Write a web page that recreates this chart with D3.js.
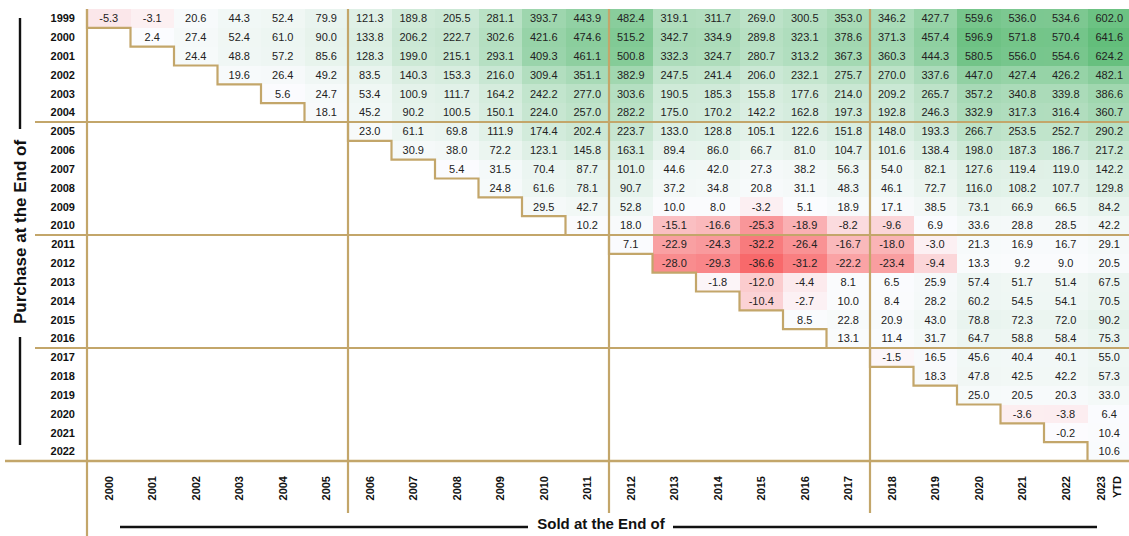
<!DOCTYPE html>
<html>
<head>
<meta charset="utf-8">
<script src="https://cdn.jsdelivr.net/npm/d3@7/dist/d3.min.js"></script>
<style>
  body { margin: 0; background: #fff; }
  text { font-family: Arial, "Liberation Sans", sans-serif; }
</style>
</head>
<body>
<div id="grid_chart"></div>
<script>
/*globals d3 */

//DATA: ROWS = YEAR PURCHASED, COLUMNS = YEAR SOLD
var purchaseYears = ["1999", "2000", "2001", "2002", "2003", "2004", "2005", "2006",
  "2007", "2008", "2009", "2010", "2011", "2012", "2013", "2014", "2015", "2016",
  "2017", "2018", "2019", "2020", "2021", "2022"];

var soldYears = ["2000", "2001", "2002", "2003", "2004", "2005", "2006", "2007",
  "2008", "2009", "2010", "2011", "2012", "2013", "2014", "2015", "2016", "2017",
  "2018", "2019", "2020", "2021", "2022", "2023 YTD"];

//each row starts at the year after purchase
var gains = [
  [-5.3, -3.1, 20.6, 44.3, 52.4, 79.9, 121.3, 189.8, 205.5, 281.1, 393.7, 443.9, 482.4, 319.1, 311.7, 269.0, 300.5, 353.0, 346.2, 427.7, 559.6, 536.0, 534.6, 602.0],
  [2.4, 27.4, 52.4, 61.0, 90.0, 133.8, 206.2, 222.7, 302.6, 421.6, 474.6, 515.2, 342.7, 334.9, 289.8, 323.1, 378.6, 371.3, 457.4, 596.9, 571.8, 570.4, 641.6],
  [24.4, 48.8, 57.2, 85.6, 128.3, 199.0, 215.1, 293.1, 409.3, 461.1, 500.8, 332.3, 324.7, 280.7, 313.2, 367.3, 360.3, 444.3, 580.5, 556.0, 554.6, 624.2],
  [19.6, 26.4, 49.2, 83.5, 140.3, 153.3, 216.0, 309.4, 351.1, 382.9, 247.5, 241.4, 206.0, 232.1, 275.7, 270.0, 337.6, 447.0, 427.4, 426.2, 482.1],
  [5.6, 24.7, 53.4, 100.9, 111.7, 164.2, 242.2, 277.0, 303.6, 190.5, 185.3, 155.8, 177.6, 214.0, 209.2, 265.7, 357.2, 340.8, 339.8, 386.6],
  [18.1, 45.2, 90.2, 100.5, 150.1, 224.0, 257.0, 282.2, 175.0, 170.2, 142.2, 162.8, 197.3, 192.8, 246.3, 332.9, 317.3, 316.4, 360.7],
  [23.0, 61.1, 69.8, 111.9, 174.4, 202.4, 223.7, 133.0, 128.8, 105.1, 122.6, 151.8, 148.0, 193.3, 266.7, 253.5, 252.7, 290.2],
  [30.9, 38.0, 72.2, 123.1, 145.8, 163.1, 89.4, 86.0, 66.7, 81.0, 104.7, 101.6, 138.4, 198.0, 187.3, 186.7, 217.2],
  [5.4, 31.5, 70.4, 87.7, 101.0, 44.6, 42.0, 27.3, 38.2, 56.3, 54.0, 82.1, 127.6, 119.4, 119.0, 142.2],
  [24.8, 61.6, 78.1, 90.7, 37.2, 34.8, 20.8, 31.1, 48.3, 46.1, 72.7, 116.0, 108.2, 107.7, 129.8],
  [29.5, 42.7, 52.8, 10.0, 8.0, -3.2, 5.1, 18.9, 17.1, 38.5, 73.1, 66.9, 66.5, 84.2],
  [10.2, 18.0, -15.1, -16.6, -25.3, -18.9, -8.2, -9.6, 6.9, 33.6, 28.8, 28.5, 42.2],
  [7.1, -22.9, -24.3, -32.2, -26.4, -16.7, -18.0, -3.0, 21.3, 16.9, 16.7, 29.1],
  [-28.0, -29.3, -36.6, -31.2, -22.2, -23.4, -9.4, 13.3, 9.2, 9.0, 20.5],
  [-1.8, -12.0, -4.4, 8.1, 6.5, 25.9, 57.4, 51.7, 51.4, 67.5],
  [-10.4, -2.7, 10.0, 8.4, 28.2, 60.2, 54.5, 54.1, 70.5],
  [8.5, 22.8, 20.9, 43.0, 78.8, 72.3, 72.0, 90.2],
  [13.1, 11.4, 31.7, 64.7, 58.8, 58.4, 75.3],
  [-1.5, 16.5, 45.6, 40.4, 40.1, 55.0],
  [18.3, 47.8, 42.5, 42.2, 57.3],
  [25.0, 20.5, 20.3, 33.0],
  [-3.6, -3.8, 6.4],
  [-0.2, 10.4],
  [10.6]
];

var yTitle = "Purchase at the End of";
var xTitle = "Sold at the End of";

var gold = "#c3a66a";

var svg = d3.select("#grid_chart").append("svg")
  .attr("width", 1129)
  .attr("height", 536);

//SCALES
var xScale = d3.scaleBand()
  .domain(soldYears)
  .range([87, 1131]);

var yScale = d3.scaleBand()
  .domain(purchaseYears)
  .range([9, 461]);

var cells = [];
gains.forEach(function(row, i) {
  row.forEach(function(v, j) {
    cells.push({p: purchaseYears[i], s: soldYears[i + j], v: v});
  });
});

//EXCEL STYLE RED - WHITE - GREEN, WHITE AT ZERO
var color = d3.scaleLinear()
  .domain([d3.min(cells, function(d) { return d.v; }), 0, d3.max(cells, function(d) { return d.v; })])
  .range(["#f8696b", "#fcfcff", "#63be7b"]);

//CELLS
svg.append("g").selectAll("rect")
  .data(cells)
  .enter().append("rect")
  .attr("x", function(d) { return xScale(d.s); })
  .attr("y", function(d) { return yScale(d.p); })
  .attr("width", xScale.bandwidth() + 0.5)
  .attr("height", yScale.bandwidth() + 0.5)
  .attr("shape-rendering", "crispEdges")
  .attr("fill", function(d) { return color(d.v); });

svg.append("g").selectAll("text")
  .data(cells)
  .enter().append("text")
  .attr("x", function(d) { return xScale(d.s) + xScale.bandwidth() / 2; })
  .attr("y", function(d) { return yScale(d.p) + yScale.bandwidth() / 2; })
  .attr("dy", "0.35em")
  .attr("text-anchor", "middle")
  .attr("font-size", "11px")
  .attr("fill", "#222")
  .text(function(d) { return d.v.toFixed(1); });

//ROW LABELS
svg.append("g").selectAll("text")
  .data(purchaseYears)
  .enter().append("text")
  .attr("x", 75)
  .attr("y", function(d) { return yScale(d) + yScale.bandwidth() / 2; })
  .attr("dy", "0.35em")
  .attr("text-anchor", "end")
  .attr("font-size", "11px")
  .attr("font-weight", "bold")
  .attr("fill", "#111")
  .text(function(d) { return d; });

//COLUMN LABELS (rotated, "2023 YTD" on two lines)
var colLabels = svg.append("g").selectAll("g")
  .data(soldYears)
  .enter().append("g")
  .attr("transform", function(d) {
    var n = d.split(" ").length;
    return "translate(" + (xScale(d) + xScale.bandwidth() / 2 - (n - 1) * 8) + ",476) rotate(-90)";
  });

colLabels.selectAll("text")
  .data(function(d) { return d.split(" "); })
  .enter().append("text")
  .attr("x", 0)
  .attr("y", function(d, i) { return i * 16; })
  .attr("dy", "0.35em")
  .attr("text-anchor", "end")
  .attr("font-size", "11px")
  .attr("font-weight", "bold")
  .attr("fill", "#111")
  .text(function(d) { return d; });

//BLOCK LINES EVERY 6 YEARS
var blockCols = [soldYears[6], soldYears[12], soldYears[18]];
var blockRows = [purchaseYears[6], purchaseYears[12], purchaseYears[18]];

svg.append("line")
  .attr("x1", xScale.range()[0]).attr("x2", xScale.range()[0])
  .attr("y1", yScale.range()[0]).attr("y2", 536)
  .attr("stroke", gold).attr("stroke-width", 2.2);

svg.selectAll("line.vblock")
  .data(blockCols)
  .enter().append("line")
  .attr("class", "vblock")
  .attr("x1", function(d) { return xScale(d); })
  .attr("x2", function(d) { return xScale(d); })
  .attr("y1", yScale.range()[0])
  .attr("y2", 513)
  .attr("stroke", gold).attr("stroke-width", 2.2);

svg.selectAll("line.hblock")
  .data(blockRows)
  .enter().append("line")
  .attr("class", "hblock")
  .attr("x1", 35)
  .attr("x2", 1129)
  .attr("y1", function(d) { return yScale(d); })
  .attr("y2", function(d) { return yScale(d); })
  .attr("stroke", gold).attr("stroke-width", 2.2);

svg.append("line")
  .attr("x1", 5).attr("x2", 1129)
  .attr("y1", yScale.range()[1]).attr("y2", yScale.range()[1])
  .attr("stroke", gold).attr("stroke-width", 2.6);

//STAIRCASE BELOW THE TRIANGLE
var steps = [];
purchaseYears.forEach(function(p, i) {
  steps.push([xScale(soldYears[i]), yScale(p)]);
  steps.push([xScale(soldYears[i]), yScale(p) + yScale.bandwidth()]);
});

svg.append("path")
  .attr("d", d3.line()(steps))
  .attr("fill", "none")
  .attr("stroke", gold)
  .attr("stroke-width", 2.2);

//AXIS TITLES WITH LONG DASHES
svg.append("text")
  .attr("transform", "translate(20," + 232 + ") rotate(-90)")
  .attr("dy", "0.35em")
  .attr("text-anchor", "middle")
  .attr("font-size", "17px")
  .attr("font-weight", "bold")
  .attr("fill", "#111")
  .text(yTitle);

var dashStyle = function(sel) {
  sel.attr("stroke", "#111").attr("stroke-width", 2.4);
};

svg.append("line").attr("x1", 20).attr("x2", 20).attr("y1", 18).attr("y2", 129).call(dashStyle);
svg.append("line").attr("x1", 20).attr("x2", 20).attr("y1", 337).attr("y2", 445).call(dashStyle);

svg.append("text")
  .attr("x", 601)
  .attr("y", 524)
  .attr("dy", "0.35em")
  .attr("text-anchor", "middle")
  .attr("font-size", "15px")
  .attr("font-weight", "bold")
  .attr("fill", "#111")
  .text(xTitle);

svg.append("line").attr("x1", 120).attr("x2", 528).attr("y1", 527).attr("y2", 527).call(dashStyle);
svg.append("line").attr("x1", 673).attr("x2", 1097).attr("y1", 527).attr("y2", 527).call(dashStyle);
</script>
</body>
</html>
